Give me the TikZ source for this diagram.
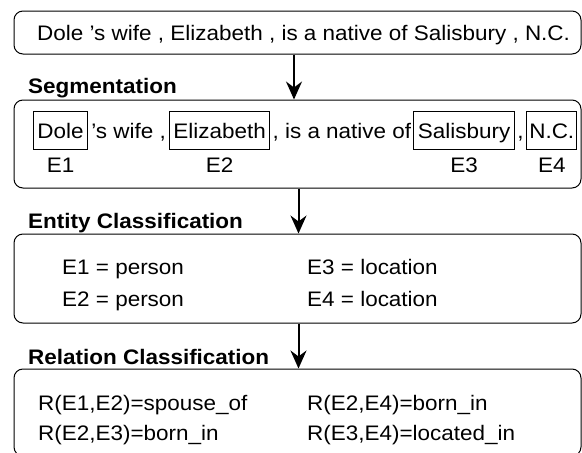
\documentclass[tikz,border=0pt]{standalone}
\usepackage{fontspec}
\setmainfont{Liberation Sans}[FakeStretch=1.07]
\usetikzlibrary{arrows.meta}
\begin{document}
\begin{tikzpicture}[x=1pt,y=-1pt,
  fnt/.style={font=\fontsize{21}{25}\selectfont},
  panel/.style={draw, line width=1pt, rounded corners=9pt, inner sep=0pt, minimum width=567pt},
  ent/.style={draw, line width=0.9pt, fnt, inner xsep=4pt, inner ysep=0pt, text height=27pt, text depth=11pt, anchor=west},
  txt/.style={fnt, inner xsep=2pt, inner ysep=0pt, text height=27pt, text depth=11pt, anchor=west},
  lbl/.style={fnt, inner sep=0pt},
  head/.style={font=\fontsize{21}{25}\selectfont\bfseries, inner sep=0pt, anchor=base west},
  arr/.style={line width=2pt, -{Stealth[length=18pt,width=16pt,inset=6pt]}}]
\clip (0,0) rectangle (582,453);
% panels
\node[panel, minimum height=43pt] (b1) at (297.5,32.5) {};
\node[panel, minimum height=88pt] (b2) at (297.5,144) {};
\node[panel, minimum height=89pt] (b3) at (297.5,278.5) {};
\node[panel, minimum height=87pt] (b4) at (297.5,412.5) {};
% sentence
\node[lbl, anchor=base west] (s0) at (37,40) {Dole ’s wife , Elizabeth , is a native of Salisbury , N.C.};
% headings
\node[head] (hseg) at (28,93) {Segmentation};
\node[head] (hent) at (28,228) {Entity Classification};
\node[head] (hrel) at (28,364) {Relation Classification};
% arrows
\coordinate (ax1) at (294,0);
\coordinate (ax2) at (298.5,0);
\draw[arr] (b1.south -| ax1) -- (b2.north -| ax1);
\draw[arr] (b2.south -| ax2) -- (b3.north -| ax2);
\draw[arr] (b3.south -| ax2) -- (b4.north -| ax2);
% segmentation row
\node[ent] (d) at (33,130) {Dole};
\node[txt, inner xsep=3pt] (t1) at (d.east) {’s wife ,};
\node[ent] (e) at (t1.east) {Elizabeth};
\node[txt] (t2) at (e.east) {, is a native of};
\node[ent] (s) at (t2.east) {Salisbury};
\node[txt, inner xsep=2.5pt] (t3) at (s.east) {,};
\node[ent, inner xsep=2.5pt] (n) at (t3.east) {N.C.};
\coordinate (ey) at (0,165);
\node[lbl] (l1) at (d |- ey) {E1};
\node[lbl] (l2) at (e |- ey) {E2};
\node[lbl] (l3) at (s |- ey) {E3};
\node[lbl] (l4) at (n |- ey) {E4};
% entity classification
\node[lbl, anchor=base west] (c1) at (62,274) {E1 = person};
\node[lbl, anchor=base west] (c2) at (62,306) {E2 = person};
\node[lbl, anchor=base west] (c3) at (307,274) {E3 = location};
\node[lbl, anchor=base west] (c4) at (307,306) {E4 = location};
% relation classification
\node[lbl, anchor=base west] (r1) at (38,410) {R(E1,E2)=spouse\_of};
\node[lbl, anchor=base west] (r2) at (38,440) {R(E2,E3)=born\_in};
\node[lbl, anchor=base west] (r3) at (307,410) {R(E2,E4)=born\_in};
\node[lbl, anchor=base west] (r4) at (307,440) {R(E3,E4)=located\_in};
\end{tikzpicture}
\end{document}
